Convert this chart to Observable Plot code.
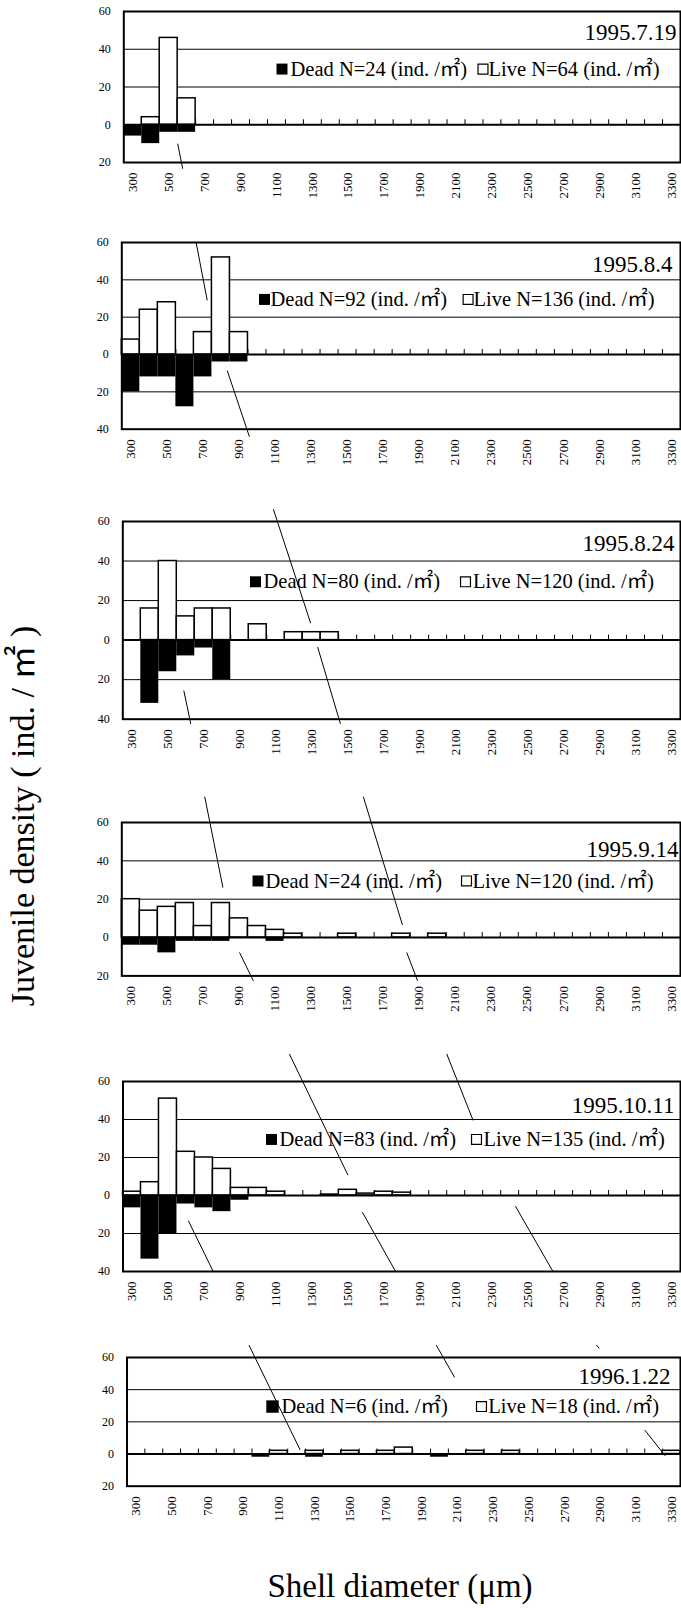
<!DOCTYPE html>
<html><head><meta charset="utf-8">
<script src="https://cdn.jsdelivr.net/npm/d3@7"></script>
<script src="https://cdn.jsdelivr.net/npm/@observablehq/plot@0.6"></script>
<style>
body{margin:0;background:#fff;}
#wrap{position:relative;width:681px;height:1608px;overflow:hidden;background:#fff;font-family:"Liberation Serif","Noto Sans CJK JP",serif;color:#000;}
.panel{position:absolute;left:0;}
#ytitle{position:absolute;left:23px;top:816px;transform:translate(-50%,-50%) rotate(-90deg);white-space:nowrap;font-size:34px;line-height:1;}
#xtitle{position:absolute;left:400px;top:1586px;transform:translate(-50%,-50%);white-space:nowrap;font-size:33px;line-height:1;}
</style></head><body><div id="wrap"></div>
<script>
// ---- data ----
const bins = [300,400,500,600,700,800,900,1000,1100,1200,1300,1400,1500,1600,1700,1800,1900,2000,2100,2200,2300,2400,2500,2600,2700,2800,2900,3000,3100,3200,3300];
const xTickLabels = [300,500,700,900,1100,1300,1500,1700,1900,2100,2300,2500,2700,2900,3100,3300];
const yTickValues = [-40,-20,0,20,40,60];
const dates = ["1995.7.19","1995.8.4","1995.8.24","1995.9.14","1995.10.11","1996.1.22"];
const deadTotals = [24,92,80,24,83,6];
const liveTotals = [64,136,120,120,135,18];
const yMins = [-20,-40,-40,-20,-40,-20];

const live_19950719 = [0,4,46,14,0,0,0,0,0,0,0,0,0,0,0,0,0,0,0,0,0,0,0,0,0,0,0,0,0,0,0];
const dead_19950719 = [6,10,4,4,0,0,0,0,0,0,0,0,0,0,0,0,0,0,0,0,0,0,0,0,0,0,0,0,0,0,0];
const live_19950804 = [8,24,28,0,12,52,12,0,0,0,0,0,0,0,0,0,0,0,0,0,0,0,0,0,0,0,0,0,0,0,0];
const dead_19950804 = [20,12,12,28,12,4,4,0,0,0,0,0,0,0,0,0,0,0,0,0,0,0,0,0,0,0,0,0,0,0,0];
const live_19950824 = [0,16,40,12,16,16,0,8,0,4,4,4,0,0,0,0,0,0,0,0,0,0,0,0,0,0,0,0,0,0,0];
const dead_19950824 = [0,32,16,8,4,20,0,0,0,0,0,0,0,0,0,0,0,0,0,0,0,0,0,0,0,0,0,0,0,0,0];
const live_19950914 = [20,14,16,18,6,18,10,6,4,2,0,0,2,0,0,2,0,2,0,0,0,0,0,0,0,0,0,0,0,0,0];
const dead_19950914 = [4,4,8,2,2,2,0,0,2,0,0,0,0,0,0,0,0,0,0,0,0,0,0,0,0,0,0,0,0,0,0];
const live_19951011 = [2,7,51,23,20,14,4,4,2,0,0,0.5,3,1,2,1.5,0,0,0,0,0,0,0,0,0,0,0,0,0,0,0];
const dead_19951011 = [6.5,33.5,20,4.5,6.5,8.5,2.5,0,0,0,0,0,0,0,0,0,0,0,0,0,0,0.5,0,0,0,0,0,0,0,0,0];
const live_19960122 = [0,0,0,0,0,0,0,0,2,0,2,0,2,0,2,4,0,0,0,2,0,2,0,0,0,0,0,0,0,0,2];
const dead_19960122 = [0,0,0,0,0,0,0,2,0,0,2,0,0,0,0,0,0,2,0,0,0,0,0,0,0,0,0,0,0,0,0];

// stray leader lines of the original figure, in data units [x1, y1, x2, y2]
const leaders_19950719 = [[550,-10,578,-23.3]];
const leaders_19950804 = [[662,60.2,724,29],[835,-8.6,958,-44]];
const leaders_19950824 = [[1087,66.2,1294,8.6],[1333,-3.5,1460,-42.4],[589,-25.5,628,-42.4]];
const leaders_19950914 = [[710,73.5,811,26.1],[1590,73.5,1807,6.6],[903,-7.8,980,-22.6],[1831,-7.8,1891,-22.6]];
const leaders_19951011 = [[1175,74.5,1501,10.7],[2050,74.5,2197,39.5],[613,-13.2,753,-40.2],[1581,-8.8,1767,-40.2],[2432,-5.6,2642,-40.2]];
const leaders_19960122 = [[933,67.7,1220,2.5],[1982,67.7,2085,47.6],[2880,67.7,2895,65.6],[3150,14.9,3265,-1.2]];

const liveSeries = [live_19950719, live_19950804, live_19950824, live_19950914, live_19951011, live_19960122];
const deadSeries = [dead_19950719, dead_19950804, dead_19950824, dead_19950914, dead_19951011, dead_19960122];
const leaderSeries = [leaders_19950719, leaders_19950804, leaders_19950824, leaders_19950914, leaders_19951011, leaders_19960122];

// ---- layout (pixels) ----
const layout = [
  {top:10.7,  bottom:161.7,  left:123.3, titleDx:-4,  titleY:48.7, dm:281.5, dt:290, lm:482.5, lt:488, mr:6.2},
  {top:242.3, bottom:429,    left:121.3, titleDx:-8,  titleY:48.1, dm:264,   dt:270, lm:467.6, lt:473, mr:6.2},
  {top:521,   bottom:718.7,  left:122.3, titleDx:-6,  titleY:49,   dm:255,   dt:263, lm:465,   lt:472.5, mr:6.2},
  {top:822.3, bottom:975.7,  left:121.3, titleDx:-2,  titleY:45.8, dm:257.5, dt:265, lm:466,   lt:472, mr:6.2},
  {top:1080.7,bottom:1270.7, left:122.5, titleDx:-6,  titleY:47.2, dm:271,   dt:279, lm:476,   lt:483, mr:6.2},
  {top:1357.3,bottom:1486,   left:126.5, titleDx:-10, titleY:47.8, dm:272,   dt:281, lm:481,   lt:487.7, mr:7}
];

const FONT = "Liberation Serif, Noto Sans CJK JP, serif";
const wrap = document.getElementById("wrap");
const half = 50; // half bin width in µm
const edges = bins.slice(1).map(b => b - half);

dates.forEach((date, i) => {
  const L = layout[i];
  const mt = 40, mb = 50;
  const h = (L.bottom - L.top) + mt + mb;
  const liveRows = bins.map((b, k) => ({b, v: liveSeries[i][k]})).filter(d => d.v > 0);
  const deadRows = bins.map((b, k) => ({b, v: deadSeries[i][k]})).filter(d => d.v > 0);
  const yt = yTickValues.filter(t => t >= yMins[i]);
  const grid = yt.filter(t => t !== 0 && t !== yMins[i] && t !== 60);
  const svg = Plot.plot({
    width: 681, height: h,
    marginLeft: L.left, marginRight: 1, marginTop: mt, marginBottom: mb,
    x: {type: "linear", domain: [250, 3350]},
    y: {domain: [yMins[i], 60]},
    style: {background: "transparent", overflow: "visible", fontFamily: FONT, color: "black"},
    marks: [
      Plot.ruleY(grid, {stroke: "black", strokeWidth: 1}),
      Plot.ruleX(edges, {x: d => d, y1: 0, y2: 0, insetTop: -5, stroke: "black", strokeWidth: 1}),
      Plot.rect(liveRows, {x1: d => d.b - half, x2: d => d.b + half, y1: 0, y2: "v", fill: "white", stroke: "black", strokeWidth: 1.5}),
      Plot.rect(deadRows, {x1: d => d.b - half, x2: d => d.b + half, y1: 0, y2: d => -d.v, fill: "black"}),
      Plot.ruleY([0], {stroke: "black", strokeWidth: 2}),
      Plot.frame({stroke: "black", strokeWidth: 2}),
      Plot.axisY(yt, {tickSize: 0, tickPadding: 13, tickFormat: d => String(Math.abs(d)), fontSize: 12, label: null, fontFamily: FONT}),
      Plot.axisX(xTickLabels, {tickSize: 0, tickPadding: 10, tickRotate: -90, tickFormat: d => String(d), fontSize: 13, label: null, fontFamily: FONT}),
      Plot.text([date], {frameAnchor: "right", y: L.titleY, dx: L.titleDx, textAnchor: "end", fontSize: 23, fontFamily: FONT, fill: "black"}),
      Plot.dot([0], {frameAnchor: "left", y: 29.5, dx: L.dm - L.left, symbol: "square", r: L.mr, fill: "black"}),
      Plot.text([`Dead N=${deadTotals[i]} (ind. /㎡)`], {frameAnchor: "left", y: 29.5, dx: L.dt - L.left, textAnchor: "start", fontSize: 20.5, fontFamily: FONT, fill: "black"}),
      Plot.dot([0], {frameAnchor: "left", y: 29.5, dx: L.lm - L.left, symbol: "square", r: 5.6, fill: "white", stroke: "black", strokeWidth: 1.2}),
      Plot.text([`Live N=${liveTotals[i]} (ind. /㎡)`], {frameAnchor: "left", y: 29.5, dx: L.lt - L.left, textAnchor: "start", fontSize: 20.5, fontFamily: FONT, fill: "black"}),
      Plot.link(leaderSeries[i], {x1: d => d[0], y1: d => d[1], x2: d => d[2], y2: d => d[3], stroke: "black", strokeWidth: 1})
    ]
  });
  svg.classList.add("panel");
  svg.style.top = (L.top - mt) + "px";
  wrap.appendChild(svg);
});

const yt = document.createElement("div");
yt.id = "ytitle";
yt.textContent = "Juvenile density ( ind. / ㎡ )";
wrap.appendChild(yt);
const xt = document.createElement("div");
xt.id = "xtitle";
xt.textContent = "Shell diameter (μm)";
wrap.appendChild(xt);
</script>
</body></html>
